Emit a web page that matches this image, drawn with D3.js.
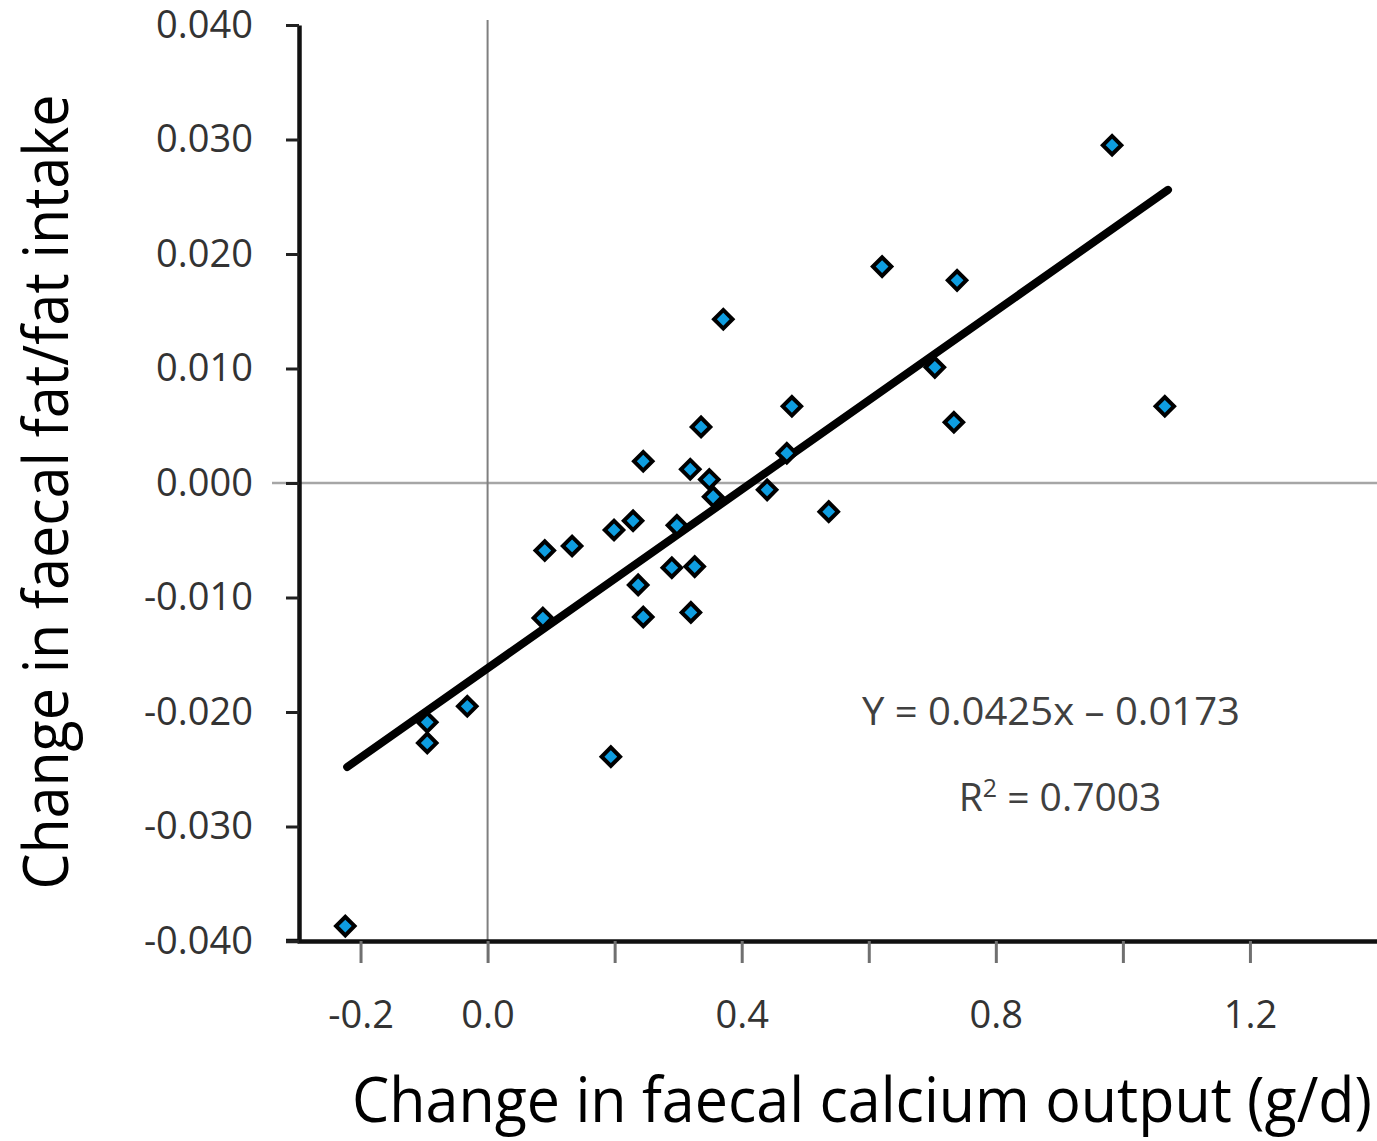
<!DOCTYPE html>
<html>
<head>
<meta charset="utf-8">
<script src="https://cdn.jsdelivr.net/npm/d3@7"></script>
<style>
  html, body { margin: 0; padding: 0; background: #fff; }
  svg { display: block; }
</style>
</head>
<body>
<svg id="chart"></svg>
<script>
// Scatter: change in faecal calcium output vs change in faecal fat/fat intake

// data
const calciumChange = [-0.224, -0.095, -0.095, -0.032, 0.090, 0.133, 0.087, 0.199, 0.229, 0.245,
    0.237, 0.245, 0.290, 0.298, 0.319, 0.326, 0.320, 0.336, 0.349, 0.355,
    0.371, 0.440, 0.471, 0.479, 0.537, 0.194, 0.621, 0.739, 0.704, 0.734,
    0.983, 1.066];
const fatChange = [-0.0387, -0.0209, -0.0227, -0.0195, -0.0059, -0.0055, -0.0118, -0.0041, -0.0033, 0.0019,
    -0.0089, -0.0117, -0.0074, -0.0037, 0.0012, -0.0073, -0.0113, 0.0049, 0.0003, -0.0012,
    0.0143, -0.0006, 0.0026, 0.0067, -0.0025, -0.0239, 0.0189, 0.0177, 0.0101, 0.0053,
    0.0295, 0.0067];

// fitted line as drawn (end points)
const trendX = [-0.221, 1.071];
const trendY = [-0.0248, 0.0256];

const xTicks = [-0.2, 0, 0.2, 0.4, 0.6, 0.8, 1.0, 1.2];
const xLabelled = [-0.2, 0, 0.4, 0.8, 1.2];
const yTicks = [-0.04, -0.03, -0.02, -0.01, 0, 0.01, 0.02, 0.03, 0.04];

const equationText = 'Y = 0.0425x \u2013 0.0173';
const r2Value = '0.7003';

const W = 1377, H = 1141;
const svg = d3.select('#chart').attr('width', W).attr('height', H);

// Scales
const x = d3.scaleLinear().domain([-0.3, 1.4]).range([297, 1377]);
const y = d3.scaleLinear().domain([-0.04, 0.04]).range([941, 25]);

const fontFam = '"Open Sans", "DejaVu Sans", sans-serif';

// zero reference lines
svg.append('line')
    .attr('x1', 272).attr('x2', W)
    .attr('y1', y(0)).attr('y2', y(0))
    .attr('stroke', '#a6a6a6').attr('stroke-width', 2.5);

svg.append('line')
    .attr('x1', x(0)).attr('x2', x(0))
    .attr('y1', 20).attr('y2', y(-0.04))
    .attr('stroke', '#7f7f7f').attr('stroke-width', 2);

// x axis
const xAxis = svg.append('g')
    .attr('transform', `translate(0,${y(-0.04)})`)
    .call(d3.axisBottom(x)
        .tickValues(xTicks)
        .tickSize(22)
        .tickSizeOuter(0)
        .tickPadding(38)
        .tickFormat(d => xLabelled.some(v => Math.abs(v - d) < 1e-9) ? d.toFixed(1) : ''));
xAxis.select('.domain').attr('stroke', '#111').attr('stroke-width', 4.5);
xAxis.selectAll('.tick line').attr('stroke', '#707070').attr('stroke-width', 3);
xAxis.selectAll('.tick text')
    .attr('fill', '#333').attr('font-size', '38px').attr('font-family', fontFam);
// axis line runs a little past the y axis on the left
xAxis.append('line')
    .attr('x1', 286).attr('x2', 299)
    .attr('stroke', '#111').attr('stroke-width', 4.5);

// y axis
const yAxis = svg.append('g')
    .attr('transform', 'translate(299,0)')
    .call(d3.axisLeft(y)
        .tickValues(yTicks)
        .tickSize(13)
        .tickPadding(33)
        .tickSizeOuter(0)
        .tickFormat(d => d.toFixed(3)));
yAxis.select('.domain').attr('stroke', '#111').attr('stroke-width', 4.5);
yAxis.selectAll('.tick line').attr('stroke', '#222').attr('stroke-width', 3);
yAxis.selectAll('.tick text')
    .attr('fill', '#333').attr('font-size', '38px').attr('font-family', fontFam);

// trend line
svg.append('line')
    .attr('x1', x(trendX[0])).attr('y1', y(trendY[0]))
    .attr('x2', x(trendX[1])).attr('y2', y(trendY[1]))
    .attr('stroke', '#000').attr('stroke-width', 8)
    .attr('stroke-linecap', 'round');

// points (diamonds)
const pts = calciumChange.map((c, i) => ({c, f: fatChange[i]}));
svg.append('g')
    .selectAll('path')
    .data(pts)
    .enter()
    .append('path')
    .attr('d', d3.symbol().type(d3.symbolSquare).size(170))
    .attr('transform', d => `translate(${x(d.c)},${y(d.f)}) rotate(45)`)
    .attr('fill', '#0e9de0')
    .attr('stroke', '#000')
    .attr('stroke-width', 4);

// equation annotation
svg.append('text')
    .attr('x', 1051).attr('y', 725)
    .attr('text-anchor', 'middle')
    .attr('fill', '#404040')
    .attr('font-size', '39px')
    .attr('font-family', fontFam)
    .attr('textLength', 378)
    .attr('lengthAdjust', 'spacingAndGlyphs')
    .text(equationText);

const r2 = svg.append('text')
    .attr('x', 1060).attr('y', 811)
    .attr('text-anchor', 'middle')
    .attr('fill', '#404040')
    .attr('font-size', '39px')
    .attr('font-family', fontFam);
r2.append('tspan').text('R');
r2.append('tspan').attr('font-size', '25px').attr('dy', -14).text('2');
r2.append('tspan').attr('dy', 14).text(' = ' + r2Value);

// axis titles
svg.append('text')
    .attr('transform', 'translate(68,492) rotate(-90)')
    .attr('text-anchor', 'middle')
    .attr('fill', '#000')
    .attr('font-size', '62px')
    .attr('font-family', fontFam)
    .attr('textLength', 795)
    .attr('lengthAdjust', 'spacingAndGlyphs')
    .text('Change in faecal fat/fat intake');

svg.append('text')
    .attr('x', 862).attr('y', 1122)
    .attr('text-anchor', 'middle')
    .attr('fill', '#000')
    .attr('font-size', '62px')
    .attr('font-family', fontFam)
    .attr('textLength', 1020)
    .attr('lengthAdjust', 'spacingAndGlyphs')
    .text('Change in faecal calcium output (g/d)');
</script>
</body>
</html>
